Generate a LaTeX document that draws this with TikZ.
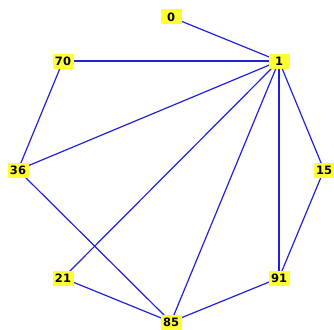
\documentclass[tikz,border=0pt]{standalone}
\usepackage{fontspec}
\setsansfont{DejaVu Sans}
\usepackage{tikz}
\usetikzlibrary{backgrounds}
\definecolor{vyellow}{HTML}{FFFF33}
\definecolor{eblue}{HTML}{2020DD}

\begin{document}
\begin{tikzpicture}[
    x=1pt, y=-1pt,
    vertex/.style={
      fill=vyellow, inner sep=1pt, minimum width=21pt,
      minimum height=15pt, font=\fontsize{11.5}{13}\sffamily\bfseries
    },
    edge/.style={eblue, line width=1.2pt}
  ]
  \useasboundingbox (0,0) rectangle (334,329);
  % Vertices (octagon, clockwise from top)
  \node[vertex] (v0)  at (171,17)  {0};
  \node[vertex] (v1)  at (279,61)  {1};
  \node[vertex] (v15) at (324,170) {15};
  \node[vertex] (v91) at (279,278) {91};
  \node[vertex] (v85) at (171,322) {85};
  \node[vertex] (v21) at (63,278)  {21};
  \node[vertex] (v36) at (18,170)  {36};
  \node[vertex] (v70) at (63,61)   {70};

  % Edges (behind the vertices)
  \begin{scope}[on background layer]
    \foreach \i/\j in {v0/v1, v70/v1, v70/v36, v36/v1, v1/v15, v1/v91,
                       v1/v85, v1/v21, v15/v91, v91/v85, v36/v85, v21/v85} {
      \draw[edge] (\i.center) -- (\j.center);
    }
  \end{scope}
\end{tikzpicture}
\end{document}
